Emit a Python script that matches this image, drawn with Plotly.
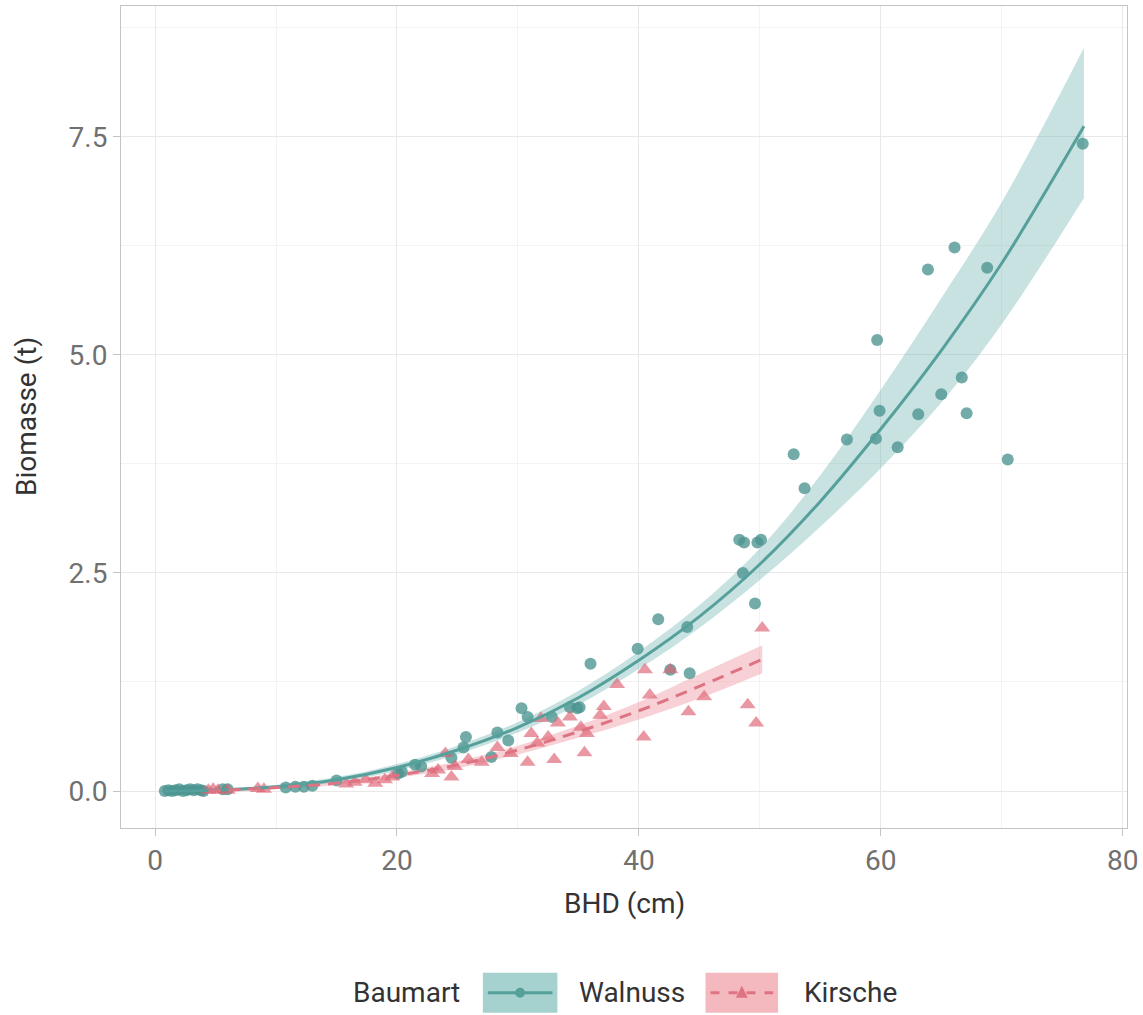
import plotly.graph_objects as go

# --- Measured trees: stem diameter (BHD, cm) and biomass (t) ---
walnuss_bhd = [0.8, 1.1, 1.4, 1.7, 2.0, 2.3, 2.6, 2.9, 3.2, 3.5, 3.8, 4.0, 5.6, 6.0,
               10.8, 11.6, 12.3, 13.0, 15.0, 20.1, 20.4, 21.5, 22.0, 24.5, 25.5, 25.7,
               27.8, 28.3, 29.2, 30.3, 30.8, 32.8, 34.3, 34.9, 35.1, 36.0, 39.9, 41.6,
               42.6, 44.0, 44.2, 48.3, 48.6, 48.7, 49.6, 49.8, 50.1, 52.8, 53.7, 57.2,
               59.6, 59.7, 59.9, 61.4, 63.1, 63.9, 65.0, 66.1, 66.7, 67.1, 68.8, 70.5, 76.7]
walnuss_bio = [0.00, 0.01, 0.00, 0.01, 0.02, 0.00, 0.01, 0.02, 0.01, 0.02, 0.01, 0.00, 0.02, 0.02,
               0.04, 0.05, 0.05, 0.06, 0.12, 0.20, 0.22, 0.30, 0.28, 0.38, 0.50, 0.62,
               0.39, 0.67, 0.58, 0.95, 0.85, 0.85, 0.96, 0.95, 0.96, 1.46, 1.63, 1.97,
               1.39, 1.88, 1.35, 2.88, 2.50, 2.85, 2.15, 2.85, 2.88, 3.86, 3.47, 4.03,
               4.04, 5.17, 4.36, 3.94, 4.32, 5.98, 4.55, 6.23, 4.74, 4.33, 6.00, 3.80, 7.42]

kirsche_bhd = [4.4, 4.8, 5.2, 6.0, 8.5, 9.0, 15.8, 16.5, 17.4, 18.2, 19.0, 19.6, 22.9,
               23.4, 24.0, 24.5, 24.8, 25.9, 27.0, 28.3, 29.4, 30.8, 31.1, 31.6, 31.9,
               32.5, 33.0, 33.3, 34.3, 35.2, 35.5, 35.7, 36.8, 37.1, 38.2, 40.4, 40.5,
               40.9, 42.6, 44.1, 45.4, 49.0, 49.7, 50.2]
kirsche_bio = [0.01, 0.02, 0.01, 0.01, 0.03, 0.02, 0.08, 0.10, 0.13, 0.09, 0.13, 0.16, 0.20,
               0.24, 0.43, 0.16, 0.28, 0.36, 0.33, 0.50, 0.43, 0.33, 0.66, 0.55, 0.83,
               0.62, 0.36, 0.78, 0.85, 0.73, 0.44, 0.66, 0.87, 0.97, 1.22, 0.62, 1.39,
               1.10, 1.39, 0.91, 1.08, 0.99, 0.78, 1.87]

# --- Fitted curves with confidence bands ---
walnuss_fit_x = [0.8, 5, 10, 15, 20, 25, 30, 35, 40, 45, 50, 55, 60, 65, 70, 76.8]
walnuss_fit_y = [0.00, 0.01, 0.05, 0.13, 0.27, 0.47, 0.73, 1.07, 1.50, 2.00, 2.60, 3.32, 4.15, 5.05, 6.05, 7.62]
walnuss_fit_lo = [-0.03, -0.01, 0.03, 0.10, 0.23, 0.42, 0.67, 0.99, 1.40, 1.87, 2.42, 3.03, 3.70, 4.45, 5.35, 6.80]
walnuss_fit_hi = [0.03, 0.03, 0.07, 0.16, 0.31, 0.52, 0.79, 1.15, 1.60, 2.13, 2.78, 3.62, 4.60, 5.65, 6.75, 8.52]

kirsche_fit_x = [4.4, 10, 15, 20, 25, 30, 35, 40, 45, 50.2]
kirsche_fit_y = [0.00, 0.04, 0.09, 0.18, 0.30, 0.47, 0.68, 0.92, 1.20, 1.51]
kirsche_fit_lo = [-0.02, 0.02, 0.07, 0.15, 0.26, 0.42, 0.61, 0.82, 1.06, 1.35]
kirsche_fit_hi = [0.02, 0.06, 0.11, 0.21, 0.34, 0.52, 0.75, 1.02, 1.34, 1.67]

x_ticks = [0, 20, 40, 60, 80]
y_ticks = [0.0, 2.5, 5.0, 7.5]
y_tick_text = ["0.0", "2.5", "5.0", "7.5"]

TEAL_LINE = "#56a09c"
TEAL_PT = "rgba(74,148,144,0.78)"
TEAL_BAND = "rgba(110,180,178,0.38)"
TEAL_KEY = "rgba(110,180,178,0.62)"
RED_LINE = "#de7483"
RED_PT = "rgba(222,98,116,0.66)"
RED_BAND = "rgba(238,140,152,0.40)"
RED_KEY = "rgba(238,140,152,0.62)"
FONT = "Roboto"

W, H = 1143, 1015
ML, MR, MT, MB = 121, 10, 5, 187
PW, PH = W - ML - MR, H - MT - MB


def px(xpix):
    return (xpix - ML) / PW


def py(ypix):
    return (H - MB - ypix) / PH


fig = go.Figure()


def band(xs, lo, hi, color):
    fig.add_trace(go.Scatter(x=xs, y=lo, mode="lines", line=dict(width=0, shape="spline"),
                             hoverinfo="skip", showlegend=False))
    fig.add_trace(go.Scatter(x=xs, y=hi, mode="lines", fill="tonexty", fillcolor=color,
                             line=dict(width=0, shape="spline"), hoverinfo="skip",
                             showlegend=False))


band(walnuss_fit_x, walnuss_fit_lo, walnuss_fit_hi, TEAL_BAND)
band(kirsche_fit_x, kirsche_fit_lo, kirsche_fit_hi, RED_BAND)

fig.add_trace(go.Scatter(x=walnuss_bhd, y=walnuss_bio, mode="markers", name="Walnuss",
                         marker=dict(symbol="circle", size=12, color=TEAL_PT, line=dict(width=0)),
                         showlegend=False))
fig.add_trace(go.Scatter(x=kirsche_bhd, y=kirsche_bio, mode="markers", name="Kirsche",
                         marker=dict(symbol="triangle-up", size=14, color=RED_PT, line=dict(width=0)),
                         showlegend=False))

fig.add_trace(go.Scatter(x=walnuss_fit_x, y=walnuss_fit_y, mode="lines",
                         line=dict(color=TEAL_LINE, width=3, shape="spline"), showlegend=False))
fig.add_trace(go.Scatter(x=kirsche_fit_x, y=kirsche_fit_y, mode="lines",
                         line=dict(color=RED_LINE, width=3, dash="12px,8px", shape="spline"),
                         showlegend=False))

# --- Legend drawn below the panel ---
shapes = []
annotations = []
legend_y = 993
key_top, key_bot = 973, 1013
keys = [
    (485, 560, TEAL_KEY, TEAL_LINE, "solid", "circle", "Walnuss", 580),
    (709, 782, RED_KEY, RED_LINE, "dash", "triangle", "Kirsche", 806),
]
for x0, x1, fillc, linec, dash, sym, label, tx in keys:
    shapes.append(dict(type="rect", xref="paper", yref="paper",
                       x0=px(x0), x1=px(x1), y0=py(key_bot), y1=py(key_top),
                       fillcolor=fillc, line=dict(width=0), layer="above"))
    shapes.append(dict(type="line", xref="paper", yref="paper",
                       x0=px(x0 + 5), x1=px(x1 - 5), y0=py(legend_y), y1=py(legend_y),
                       line=dict(color=linec, width=3, dash="dash" if dash == "dash" else "solid"),
                       layer="above"))
    cx = (x0 + x1) / 2
    if sym == "circle":
        shapes.append(dict(type="circle", xref="paper", yref="paper",
                           x0=px(cx - 5), x1=px(cx + 5), y0=py(legend_y + 5), y1=py(legend_y - 5),
                           fillcolor=linec, line=dict(width=0), layer="above"))
    else:
        path = "M {} {} L {} {} L {} {} Z".format(
            px(cx - 6), py(legend_y + 5), px(cx + 6), py(legend_y + 5), px(cx), py(legend_y - 7))
        shapes.append(dict(type="path", xref="paper", yref="paper", path=path,
                           fillcolor=linec, line=dict(width=0), layer="above"))
    annotations.append(dict(text=label, xref="paper", yref="paper", x=px(tx), y=py(legend_y),
                            xanchor="left", yanchor="middle", showarrow=False,
                            font=dict(family=FONT, size=28, color="#333333")))

annotations.append(dict(text="Baumart", xref="paper", yref="paper", x=px(352), y=py(legend_y),
                        xanchor="left", yanchor="middle", showarrow=False,
                        font=dict(family=FONT, size=28, color="#333333")))

# Axis titles
annotations.append(dict(text="BHD (cm)", xref="paper", yref="paper", x=px(628), y=py(904),
                        xanchor="center", yanchor="middle", showarrow=False,
                        font=dict(family=FONT, size=28, color="#333333")))
annotations.append(dict(text="Biomasse (t)", xref="paper", yref="paper", x=px(26), y=py(416),
                        xanchor="center", yanchor="middle", showarrow=False, textangle=-90,
                        font=dict(family=FONT, size=28, color="#333333")))

axis_common = dict(showline=True, mirror=True, linecolor="#c4c4c4", linewidth=1,
                   ticks="outside", ticklen=7, tickcolor="#c4c4c4", tickwidth=1,
                   showgrid=True, gridcolor="#e8e8e8", gridwidth=1, zeroline=False,
                   ticklabeloverflow="allow",
                   tickfont=dict(family=FONT, size=28, color="#707070"))

fig.update_layout(
    width=W, height=H,
    margin=dict(l=ML, r=MR, t=MT, b=MB),
    paper_bgcolor="white", plot_bgcolor="white",
    showlegend=False,
    shapes=shapes,
    annotations=annotations,
    xaxis=dict(range=[-2.82, 80.36], tickvals=x_ticks,
               minor=dict(tickvals=[10, 30, 50, 70], showgrid=True, gridcolor="#f3f3f3", ticks=""),
               **axis_common),
    yaxis=dict(range=[-0.424, 9.0], tickvals=y_ticks, ticktext=y_tick_text,
               minor=dict(tickvals=[1.25, 3.75, 6.25, 8.75], showgrid=True, gridcolor="#f3f3f3", ticks=""),
               **axis_common),
)

fig.write_html("out.html")
